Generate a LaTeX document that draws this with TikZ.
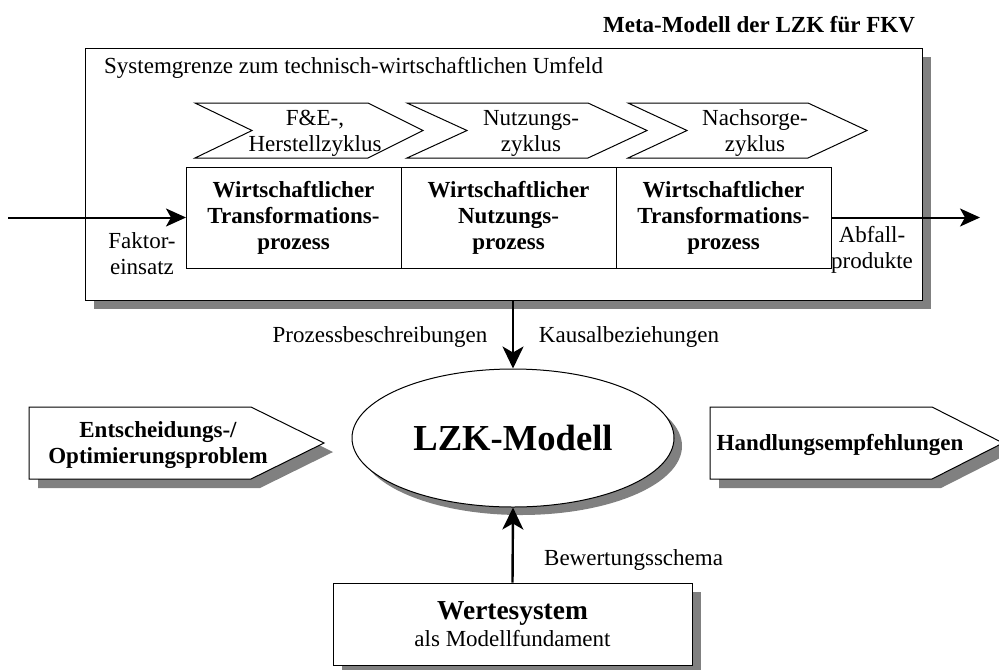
\documentclass[tikz,border=0pt]{standalone}
\usepackage{fontspec}
\setmainfont{Liberation Serif}
\usetikzlibrary{arrows.meta,positioning,shapes.geometric,shadows}

\newcommand\txtsize{\fontsize{11.5}{13}\selectfont}

\tikzset{
  schatten/.style={drop shadow={shadow xshift=4.5pt,shadow yshift=-4.5pt,fill=gray,opacity=1}},
  prozbox/.style={draw,minimum width=107.5pt,minimum height=50.5pt,align=center,
    inner sep=0pt,outer sep=0pt,font=\txtsize\bfseries},
  pfeil/.style={line width=1pt,-{Stealth[length=10pt,width=9pt,inset=2.5pt]}},
  pfeilgross/.style={line width=1.2pt,-{Stealth[length=11pt,width=10.5pt,inset=3pt]}},
}

\begin{document}
\begin{tikzpicture}[x=0.5pt,y=-0.5pt,font=\txtsize,line width=0.5pt]
    \useasboundingbox (0,0) rectangle (999,669);
    % Titel
    \node[anchor=east,font=\txtsize\bfseries] (titel) at (922,25) {Meta-Modell der LZK für FKV};
    % Systemgrenze
    \node[draw,fill=white,schatten,minimum width=418.5pt,minimum height=126pt,
      inner sep=0pt,outer sep=0pt] (sys) at (503.5,174) {};
    \node[anchor=west] (grenze) at (97,68) {Systemgrenze zum technisch-wirtschaftlichen Umfeld};
    % Zyklen
    \draw[fill=white] (195,103) -- (368,103) -- (423,130.5) -- (368,158) -- (195,158) -- (252,130.5) -- cycle;
    \node[align=center] (z1) at (315,133) {F\&E-,\\Herstellzyklus};
    \draw[fill=white] (407,103) -- (588,103) -- (647,130.5) -- (588,158) -- (407,158) -- (467,130.5) -- cycle;
    \node[align=center] (z2) at (531,133) {Nutzungs-\\zyklus};
    \draw[fill=white] (628,103) -- (808,103) -- (867,130.5) -- (808,158) -- (628,158) -- (687,130.5) -- cycle;
    \node[align=center] (z3) at (755,133) {Nachsorge-\\zyklus};
    % Prozesse
    \node[prozbox] (p1) at (293.5,217.5) {Wirtschaftlicher\\Transformations-\\prozess};
    \node[prozbox,right=0pt of p1] (p2) {Wirtschaftlicher\\Nutzungs-\\prozess};
    \node[prozbox,right=0pt of p2] (p3) {Wirtschaftlicher\\Transformations-\\prozess};
    % Ein- und Ausgang
    \coordinate (ein) at (8,217.5);
    \coordinate (aus) at (980,217.5);
    \draw[pfeil] (ein) -- (p1.west);
    \draw[pfeil] (p3.east) -- (aus);
    \node[align=center] (faktor) at (142,254) {Faktor-\\einsatz};
    \node[align=center] (abfall) at (872,250) {Abfall-\\produkte};
    % Modell
    \node[ellipse,draw,fill=white,minimum width=161pt,minimum height=69pt,inner sep=0pt,
      drop shadow={shadow xshift=4pt,shadow yshift=-4pt,fill=gray,opacity=1},
      font=\fontsize{18.3}{22}\selectfont\bfseries] (lzk) at (513,438) {LZK-Modell};
    \draw[pfeilgross] (lzk.north |- sys.south) -- (lzk.north);
    \node (prozb) at (380,337) {Prozessbeschreibungen};
    \node (kausal) at (629,337) {Kausalbeziehungen};
    % Problem und Empfehlungen
    \draw[fill=white,schatten] (29,407) -- (251,407) -- (324,443) -- (251,479) -- (29,479) -- cycle;
    \node[align=center,font=\txtsize\bfseries] (problem) at (158,445) {Entscheidungs-/\\Optimierungsproblem};
    \draw[fill=white,schatten] (710,407) -- (932,407) -- (1003,443) -- (932,479) -- (710,479) -- cycle;
    \node[font=\txtsize\bfseries] (empf) at (840,445) {Handlungsempfehlungen};
    % Wertesystem
    \node[draw,fill=white,schatten,minimum width=179.5pt,minimum height=41pt,align=center,
      inner sep=0pt] (wert) at (512.5,624)
      {{\fontsize{13.7}{15}\selectfont\bfseries Wertesystem}\\[0.5pt]als Modellfundament};
    \draw[pfeilgross] (wert.north) -- (lzk.south);
    \node[anchor=west] (bewert) at (537,560) {Bewertungsschema};
\end{tikzpicture}
\end{document}
